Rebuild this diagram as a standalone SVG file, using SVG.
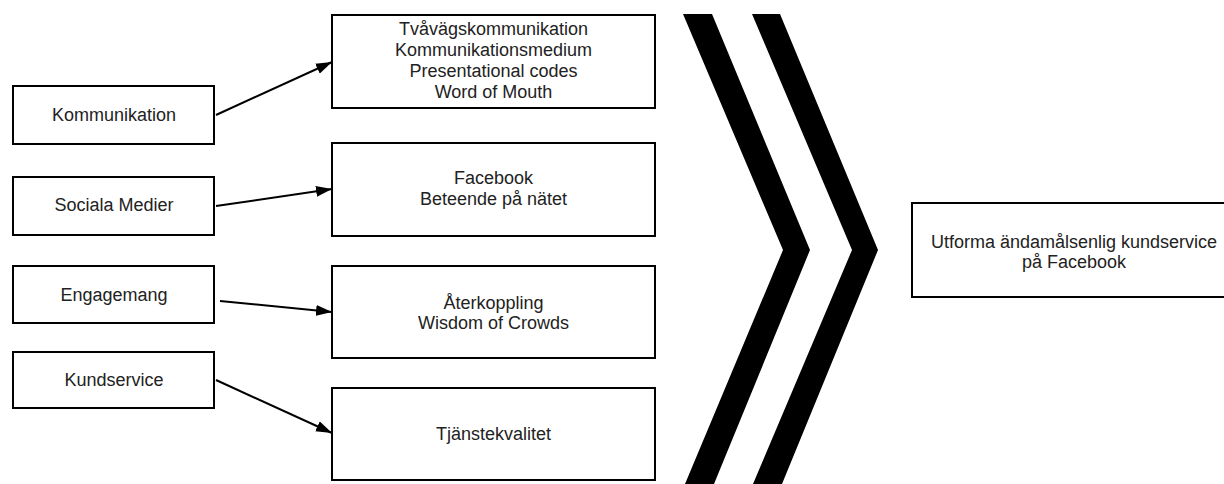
<svg xmlns="http://www.w3.org/2000/svg" width="1224" height="484" viewBox="0 0 1224 484">
<defs>
<style>
.box{fill:#fff;stroke:#000;stroke-width:2}
.t{font-family:"Liberation Sans",Arial,sans-serif;font-size:18px;fill:#222;text-anchor:middle}
.c{stroke:#000;stroke-width:2;fill:none;marker-end:url(#ah)}
.chev{fill:#000}
</style>
<marker id="ah" viewBox="0 0 16 11" refX="16" refY="5.5" markerWidth="16" markerHeight="11" markerUnits="userSpaceOnUse" orient="auto">
<path d="M0,0 L16,5.5 L0,11 Z" fill="#000"/>
</marker>
</defs>
<rect width="1224" height="484" fill="#fff"/>
<g id="n-kommunikation"><rect class="box" x="13" y="86" width="201" height="58"/><text class="t" x="114" y="121">Kommunikation</text></g>
<g id="n-sociala"><rect class="box" x="13" y="177" width="201" height="58"/><text class="t" x="114" y="211">Sociala Medier</text></g>
<g id="n-engagemang"><rect class="box" x="13" y="266" width="201" height="57"/><text class="t" x="114" y="301">Engagemang</text></g>
<g id="n-kundservice"><rect class="box" x="13" y="352" width="201" height="56"/><text class="t" x="114" y="386">Kundservice</text></g>
<g id="n-m1"><rect class="box" x="332" y="15" width="323" height="93"/>
<text class="t" x="493.5" y="35">Tvåvägskommunikation</text>
<text class="t" x="493.5" y="56">Kommunikationsmedium</text>
<text class="t" x="493.5" y="77">Presentational codes</text>
<text class="t" x="493.5" y="98">Word of Mouth</text></g>
<g id="n-m2"><rect class="box" x="332" y="143" width="323" height="93"/>
<text class="t" x="493.5" y="184">Facebook</text>
<text class="t" x="493.5" y="205">Beteende på nätet</text></g>
<g id="n-m3"><rect class="box" x="332" y="266" width="323" height="92"/>
<text class="t" x="493.5" y="309">Återkoppling</text>
<text class="t" x="493.5" y="329">Wisdom of Crowds</text></g>
<g id="n-m4"><rect class="box" x="332" y="388" width="323" height="92"/>
<text class="t" x="493.5" y="440">Tjänstekvalitet</text></g>
<g id="n-chevrons">
<polygon class="chev" points="683,14 712,14 810,250 714,484 685,484 783,250"/>
<polygon class="chev" points="752,14 780,14 878,250 782,484 753,484 852,250"/>
</g>
<g id="n-result"><rect class="box" x="912" y="203" width="320" height="94"/>
<text class="t" x="1074" y="248">Utforma ändamålsenlig kundservice</text>
<text class="t" x="1074" y="268">på Facebook</text></g>
<g id="connectors">
<line class="c" x1="216" y1="115" x2="332" y2="62"/>
<line class="c" x1="216" y1="206" x2="332" y2="189"/>
<line class="c" x1="220" y1="301" x2="332" y2="312"/>
<line class="c" x1="216" y1="380" x2="332" y2="433"/>
</g>
</svg>
